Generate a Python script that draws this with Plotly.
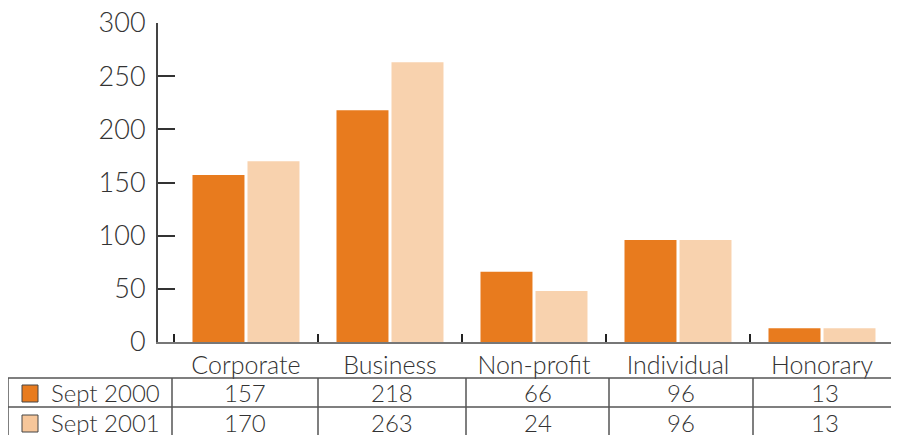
import plotly.graph_objects as go

categories = ["Corporate", "Business", "Non-profit", "Individual", "Honorary"]
series_names = ["Sept 2000", "Sept 2001"]
bars_2000 = [157, 218, 66, 96, 13]
bars_2001 = [170, 263, 48, 96, 13]
table_2000 = ["157", "218", "66", "96", "13"]
table_2001 = ["170", "263", "24", "96", "13"]
y_ticks = [0, 50, 100, 150, 200, 250, 300]

C_DARK = "#E87B1E"
C_LIGHT = "#F8D2AE"
C_LEGEND_LIGHT = "#F6C69A"
TXT = "#333333"
FONT = "Lato, 'Open Sans', sans-serif"

OFF = 8  # page body margin offset
W, H = 899 - OFF, 435 - OFF
L, R, T, B = 158 - OFF, 5, 23 - OFF, 93
PW, PH = W - L - R, H - T - B


def px(x):
    return (x - OFF - L) / PW


def py(y):
    return (H - B - (y - OFF)) / PH


fig = go.Figure()
fig.add_bar(x=categories, y=bars_2000, name=series_names[0], marker_color=C_DARK,
            marker_line_width=0)
fig.add_bar(x=categories, y=bars_2001, name=series_names[1], marker_color=C_LIGHT,
            marker_line_width=0)

shapes = []
line_col = "#555555"
for yy in (378, 407):
    shapes.append(dict(type="line", xref="paper", yref="paper", x0=px(8), x1=px(905),
                       y0=py(yy), y1=py(yy), line=dict(color=line_col, width=1.5)))
col_edges = [8, 172, 318, 466, 609, 753]
for xx in col_edges:
    shapes.append(dict(type="line", xref="paper", yref="paper", x0=px(xx), x1=px(xx),
                       y0=py(378), y1=py(445), line=dict(color=line_col, width=1.5)))
for i, col in enumerate([C_DARK, C_LEGEND_LIGHT]):
    y0 = 385 + i * 30
    shapes.append(dict(type="rect", xref="paper", yref="paper", x0=px(22), x1=px(38),
                       y0=py(y0), y1=py(y0 + 17), fillcolor=col,
                       line=dict(color="#444444", width=1)))

annotations = []
row_centers = [392, 422]
for i, name in enumerate(series_names):
    annotations.append(dict(xref="paper", yref="paper", x=px(49), y=py(row_centers[i]),
                            text=name, showarrow=False, xanchor="left", yanchor="middle",
                            font=dict(family=FONT, size=24, color=TXT, weight=300)))
col_rights = col_edges[2:] + [897]
for row, vals in enumerate([table_2000, table_2001]):
    for j, v in enumerate(vals):
        cx = (col_edges[j + 1] + col_rights[j]) / 2
        annotations.append(dict(xref="paper", yref="paper", x=px(cx), y=py(row_centers[row]),
                                text=v, showarrow=False, xanchor="center", yanchor="middle",
                                font=dict(family=FONT, size=24, color=TXT, weight=300)))

fig.update_layout(
    width=W, height=H,
    margin=dict(l=L, r=R, t=T, b=B, pad=0),
    paper_bgcolor="white", plot_bgcolor="white",
    barmode="group", bargap=0.236, bargroupgap=0.055,
    showlegend=False,
    shapes=shapes, annotations=annotations,
    font=dict(family=FONT, color=TXT),
    xaxis=dict(
        type="category", range=[-0.611, 4.5], tickson="boundaries",
        ticks="inside", ticklen=8, tickwidth=2, tickcolor="#222222",
        showline=True, linecolor="#777777", linewidth=2,
        showgrid=False, zeroline=False, automargin=False,
        tickfont=dict(family=FONT, size=25, color=TXT, weight=300),
    ),
    yaxis=dict(
        range=[0, 300], tickvals=y_ticks, ticktext=[str(v) for v in y_ticks],
        ticks="inside", ticklen=17, tickwidth=2, tickcolor="#333333",
        showline=True, linecolor="#444444", linewidth=2,
        showgrid=False, zeroline=False, automargin=False,
        ticklabelstandoff=5, ticklabeloverflow="allow",
        tickfont=dict(family=FONT, size=27, color=TXT, weight=300),
    ),
)

fig.write_html("out.html")
